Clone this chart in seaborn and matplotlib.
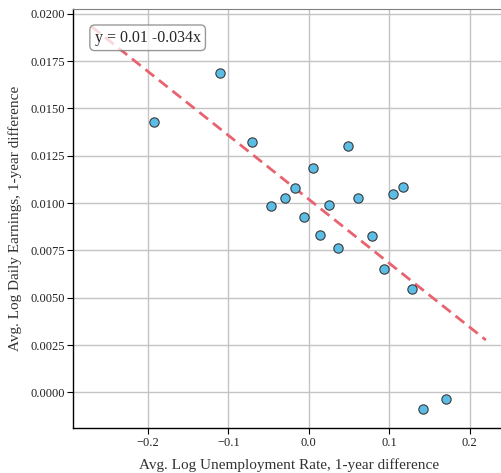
import numpy as np
import pandas as pd
import matplotlib
matplotlib.use("Agg")
import matplotlib.pyplot as plt
import seaborn as sns

# Year-over-year changes by region
unemp_diff = [-0.192, -0.110, -0.071, -0.047, -0.030, -0.017, -0.006, 0.0055,
              0.014, 0.025, 0.036, 0.049, 0.061, 0.079, 0.093, 0.105,
              0.117, 0.128, 0.142, 0.170]
earn_diff = [0.01430, 0.01688, 0.01323, 0.00983, 0.01027, 0.01081, 0.00925, 0.01184,
             0.00831, 0.00988, 0.00763, 0.01300, 0.01027, 0.00826, 0.00653, 0.01050,
             0.01083, 0.00544, -0.00090, -0.00037]

# Fitted line
intercept = 0.0102
slope = -0.0338
fit_range = [-0.27, 0.22]

df = pd.DataFrame({"x": unemp_diff, "y": earn_diff})
fit_x = np.array(fit_range)
fit_df = pd.DataFrame({"x": fit_x, "y": intercept + slope * fit_x})

sns.set_style("whitegrid")
plt.rcParams["font.family"] = ["Liberation Serif", "DejaVu Serif"]

fig = plt.figure(figsize=(5.01, 4.73), dpi=100)
ax = fig.add_axes([73 / 501, (473 - 428.3) / 473, 1.0 - 73 / 501 + 0.01, (428.3 - 9.3) / 473])

sns.lineplot(data=fit_df, x="x", y="y", ax=ax, color="#e8636f", linewidth=2,
             linestyle=(0, (4, 2.2)), zorder=2)
sns.scatterplot(data=df, x="x", y="y", ax=ax, s=45, color="#5bbde6",
                edgecolor="#3a3a3a", linewidth=0.8, zorder=3)

ax.set_xlim(-0.293, 0.245)
ax.set_ylim(-0.0019, 0.02024)
ax.set_xticks([-0.2, -0.1, 0.0, 0.1, 0.2])
ax.set_yticks(np.arange(0, 0.0201, 0.0025))
ax.yaxis.set_major_formatter(matplotlib.ticker.FormatStrFormatter("%.4f"))
ax.xaxis.set_major_formatter(matplotlib.ticker.FuncFormatter(
    lambda v, p: f"{v:.1f}".replace("-", "\u2212")))

ax.grid(True, color="#c4c4c4", linewidth=1.0)
for side in ["left", "bottom"]:
    ax.spines[side].set_color("black")
    ax.spines[side].set_linewidth(1.0)
ax.spines["top"].set_color("#808080")
ax.spines["right"].set_visible(False)
ax.tick_params(axis="both", which="major", length=4.5, width=0.8, color="black",
               labelsize=9, labelcolor="#222222", bottom=True, left=True, pad=1.5)

ax.set_xlabel("Avg. Log Unemployment Rate, 1-year difference", fontsize=11,
              color="#333333", labelpad=7)
ax.set_ylabel("Avg. Log Daily Earnings, 1-year difference", fontsize=11,
              color="#333333", labelpad=6)

label = f"y = {intercept:.2f} {slope:.3f}x"
ax.text(0.05, 0.932, label, transform=ax.transAxes, fontsize=11.5, va="center",
        ha="left", zorder=4,
        bbox=dict(boxstyle="round,pad=0.3", facecolor="white", edgecolor="#777777",
                  alpha=0.75))

fig.savefig("out.png", dpi=100)
